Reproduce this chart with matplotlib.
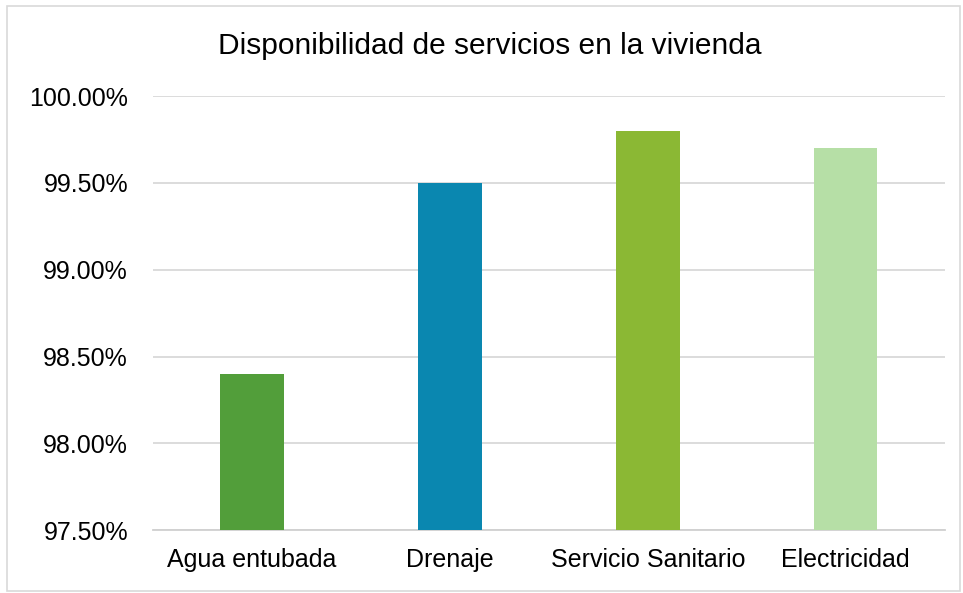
import matplotlib.pyplot as plt
from matplotlib.patches import Rectangle
from matplotlib.ticker import FuncFormatter, MultipleLocator

categories = ['Agua entubada', 'Drenaje', 'Servicio Sanitario', 'Electricidad']
values = [98.40, 99.50, 99.80, 99.70]
colors = ['#529E3A', '#0A87B0', '#8BB834', '#B6DFA6']

plt.rcParams['font.family'] = ['Liberation Sans', 'DejaVu Sans']


def draw(ax):
    x = range(len(categories))
    base = 97.5
    ax.bar(x, [v - base for v in values], bottom=base, width=0.32, color=colors, zorder=3)

    ax.set_xlim(-0.5, len(categories) - 0.5)
    ax.set_ylim(97.5, 100.0)
    ax.yaxis.set_major_locator(MultipleLocator(0.5))
    ax.yaxis.set_major_formatter(FuncFormatter(lambda v, _: f'{v:.2f}%'))
    ax.set_xticks(list(x))
    ax.set_xticklabels(categories)

    ax.grid(axis='y', color='#D9D9D9', linewidth=1.3, zorder=0)
    for side in ('top', 'right', 'left'):
        ax.spines[side].set_visible(False)
    ax.spines['bottom'].set_color('#D0D0D0')
    ax.spines['bottom'].set_linewidth(1.3)
    ax.tick_params(axis='both', length=0, labelsize=18, colors='#000000')
    ax.tick_params(axis='x', pad=13)
    ax.tick_params(axis='y', pad=18)


def main():
    fig = plt.figure(figsize=(9.63, 5.93), dpi=100)
    ax = fig.add_axes([0.159, 0.106, 0.822, 0.732])
    draw(ax)
    fig.text(0.509, 0.923, 'Disponibilidad de servicios en la vivienda',
             ha='center', va='center', fontsize=21.5)
    fig.patches.append(Rectangle((0.007, 0.003), 0.99, 0.987, transform=fig.transFigure,
                                 fill=False, edgecolor='#D9D9D9', linewidth=1.2))
    fig.savefig('out.png', dpi=100)


if __name__ == '__main__':
    main()
